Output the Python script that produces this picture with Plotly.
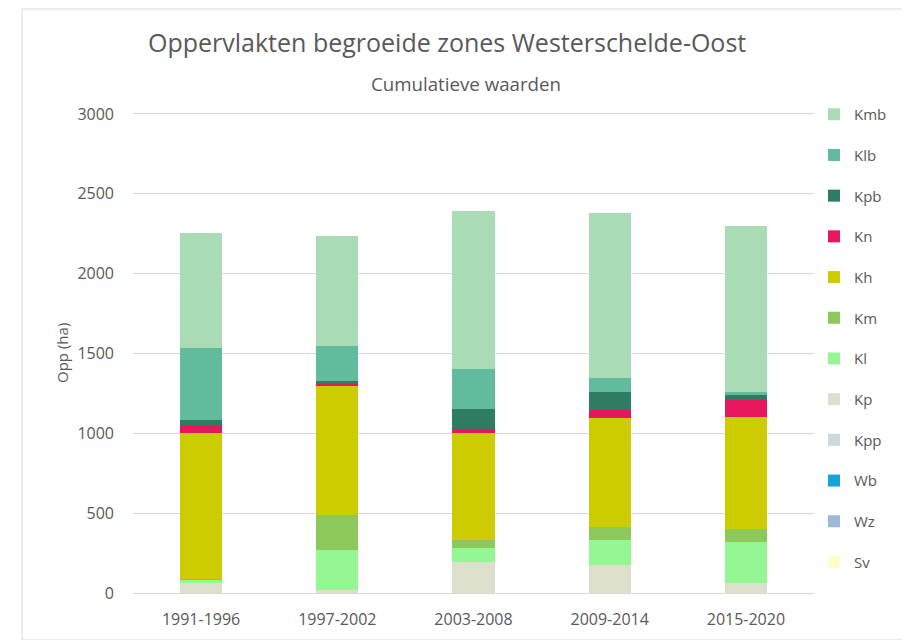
import plotly.graph_objects as go

categories = ["1991-1996", "1997-2002", "2003-2008", "2009-2014", "2015-2020"]

# series in stacking order (bottom -> top)
Sv  = [0, 0, 0, 0, 0]
Wz  = [0, 0, 0, 0, 0]
Wb  = [0, 0, 0, 0, 0]
Kpp = [0, 0, 0, 0, 0]
Kp  = [60, 20, 196, 175, 65]
Kl  = [22, 250, 84, 157, 256]
Km  = [4, 220, 52, 83, 78]
Kh  = [914, 808, 668, 679, 705]
Kn  = [52, 12, 25, 52, 105]
Kpb = [32, 20, 129, 115, 31]
Klb = [452, 220, 247, 84, 21]
Kmb = [716, 685, 993, 1037, 1037]

series_names = ["Sv", "Wz", "Wb", "Kpp", "Kp", "Kl", "Km", "Kh", "Kn", "Kpb", "Klb", "Kmb"]
series_values = [Sv, Wz, Wb, Kpp, Kp, Kl, Km, Kh, Kn, Kpb, Klb, Kmb]
series_colors = ["#FFFFCC", "#9DB9D9", "#1AA3DB", "#C8DADA", "#DCDFCC", "#94F794",
                 "#8DC85A", "#CCCC00", "#E8175D", "#2F7D60", "#61BB9C", "#A9DCB5"]

y_ticks = [0, 500, 1000, 1500, 2000, 2500, 3000]

FONT = "Open Sans"
GREY = "#595959"

# figure geometry (figure coordinates; page is offset by the 8px body margin)
W, H = 910, 640
L, T, B = 125, 90, 55
PW = 681
R = W - L - PW
PH = H - T - B


def px(x_page):
    return (x_page - 8 - L) / PW


def py(y_page):
    return (H - B - (y_page - 8)) / PH


fig = go.Figure()
n = len(series_names)
for i, (name, vals, col) in enumerate(zip(series_names, series_values, series_colors)):
    fig.add_trace(go.Bar(
        x=categories, y=vals, name=name, marker=dict(color=col, line=dict(width=0)),
        legendgroup=name, legendrank=n - i,
    ))

fig.update_layout(
    barmode="stack",
    bargap=0.69,
    width=W, height=H,
    margin=dict(l=L, r=R, t=T, b=B),
    paper_bgcolor="white", plot_bgcolor="white",
    font=dict(family=FONT, color=GREY, size=13),
    showlegend=True,
    legend=dict(
        traceorder="grouped", tracegroupgap=18.2,
        x=px(814), xanchor="left", y=1.0, yanchor="top",
        font=dict(family=FONT, size=15, color=GREY),
        itemwidth=30,
    ),
    xaxis=dict(
        showgrid=False, showline=True, linecolor="#D9D9D9", linewidth=1,
        ticks="", tickfont=dict(size=16, color=GREY), ticklabelstandoff=12,
    ),
    yaxis=dict(
        range=[0, 3100], tickvals=y_ticks, showgrid=True, gridcolor="#D9D9D9",
        zeroline=False, showline=False, ticks="",
        tickfont=dict(size=16, color=GREY), ticklabelstandoff=18,
    ),
    shapes=[dict(type="rect", xref="paper", yref="paper",
                 x0=px(22), x1=px(905), y0=py(640), y1=py(9),
                 line=dict(color="#D9D9D9", width=1), fillcolor="rgba(0,0,0,0)", layer="below")],
    annotations=[
        dict(text="Oppervlakten begroeide zones Westerschelde-Oost", xref="paper", yref="paper",
             x=px(447), y=py(42), xanchor="center", yanchor="middle",
             showarrow=False, font=dict(family=FONT, size=25, color=GREY)),
        dict(text="Cumulatieve waarden", xref="paper", yref="paper",
             x=px(466), y=py(83), xanchor="center", yanchor="middle",
             showarrow=False, font=dict(family=FONT, size=18.7, color=GREY)),
        dict(text="Opp (ha)", xref="paper", yref="paper",
             x=px(62), y=py(353), xanchor="center", yanchor="middle", textangle=-90,
             showarrow=False, font=dict(family=FONT, size=15, color=GREY)),
    ],
)

fig.write_html("out.html")
